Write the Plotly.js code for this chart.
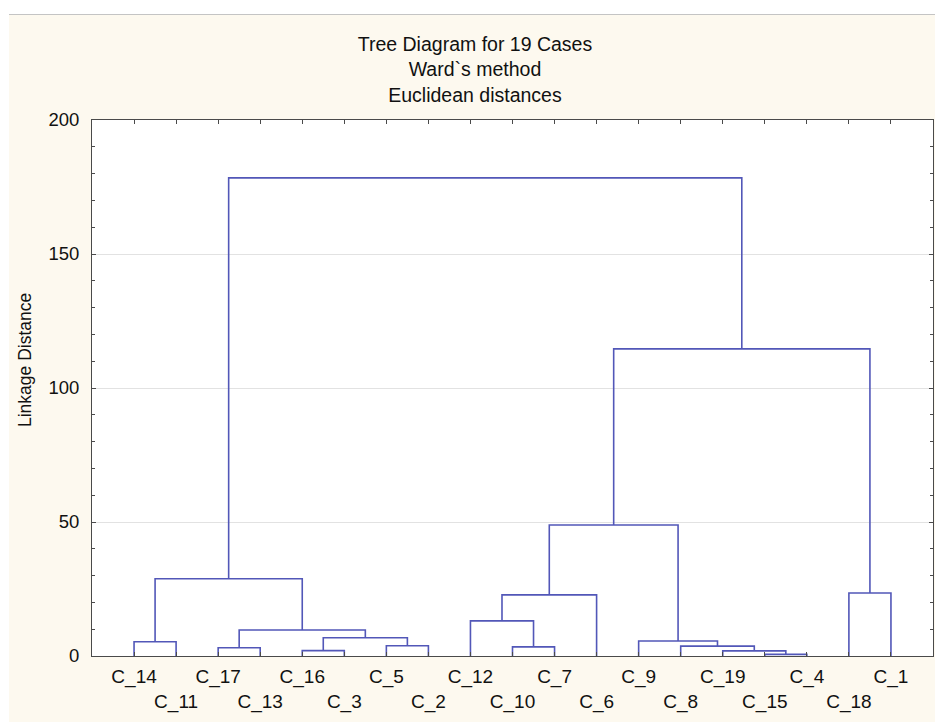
<!DOCTYPE html>
<html>
<head>
<meta charset="utf-8">
<script src="https://cdn.plot.ly/plotly-3.0.1.min.js"></script>
<style>
  html, body { margin: 0; padding: 0; background: #ffffff; }
  #wrap { position: relative; width: 935px; height: 722px; overflow: hidden; }
  #bg { position: absolute; left: 9px; top: 14px; width: 926px; height: 708px;
        background: #fdf9ef; border-top: 1px solid #c4c4c4; }
  #chart { position: absolute; left: 0; top: 0; width: 935px; height: 722px; }
</style>
</head>
<body>
<div id="wrap"><div id="bg"></div><div id="chart"></div></div>
<script>
// Leaf order along the x axis (left to right)
const leafLabels = ['C_14','C_11','C_17','C_13','C_16','C_3','C_5','C_2','C_12','C_10',
                    'C_7','C_6','C_9','C_8','C_19','C_15','C_4','C_18','C_1'];

// Linkage steps: node ids 0..18 are leaves (index into leafLabels), 19+ are merged clusters in order
const mergeLeft   = [15, 14, 4, 2, 9, 13, 6, 0, 12, 21, 22, 8, 30, 17, 26, 31, 34, 33];
const mergeRight  = [16, 19, 5, 3, 10, 20, 7, 1, 24, 25, 28, 23, 11, 18, 29, 27, 32, 35];
const mergeHeight = [0.6, 1.9, 2.0, 3.1, 3.4, 3.7, 3.8, 5.3, 5.6, 6.8, 9.7, 13.1, 22.8, 23.5, 28.8, 48.9, 114.6, 178.4];

const yTickVals = [0, 50, 100, 150, 200];

// Build dendrogram segments from the linkage
const n = leafLabels.length;
const nodeX = [], nodeY = [];
for (let i = 0; i < n; i++) { nodeX.push(i + 1); nodeY.push(0); }
const lx = [], ly = [];
for (let k = 0; k < mergeLeft.length; k++) {
  const a = mergeLeft[k], b = mergeRight[k], h = mergeHeight[k];
  lx.push(nodeX[a], nodeX[a], nodeX[b], nodeX[b], null);
  ly.push(nodeY[a], h, h, nodeY[b], null);
  nodeX.push((nodeX[a] + nodeX[b]) / 2);
  nodeY.push(h);
}

const tickVals = leafLabels.map((_, i) => i + 1);
const tickText = leafLabels.map((s, i) => (i % 2 === 0 ? s : '<br>' + s));

const fontFam = '"Liberation Sans", Arial, sans-serif';
const axisCol = '#4a4a4a';
const txtCol = '#111111';

const data = [{
  type: 'scatter', mode: 'lines', x: lx, y: ly,
  line: { color: '#5257b8', width: 1.6 },
  hoverinfo: 'skip', showlegend: false, connectgaps: false
}];

const layout = {
  width: 935, height: 722,
  margin: { l: 92, r: 2, t: 120, b: 66 },
  paper_bgcolor: 'rgba(0,0,0,0)',
  plot_bgcolor: '#ffffff',
  font: { family: fontFam, color: txtCol },
  title: {
    text: 'Tree Diagram for 19 Cases<br>Ward`s method<br>Euclidean distances',
    font: { family: fontFam, size: 19.5, color: txtCol },
    xref: 'container', x: 0.508, xanchor: 'center',
    yref: 'container', y: 1 - 51 / 722, yanchor: 'top'
  },
  xaxis: {
    range: [0, 20], showgrid: false, zeroline: false,
    tickmode: 'array', tickvals: tickVals, ticktext: tickText,
    ticks: 'inside', ticklen: 4, tickcolor: axisCol, tickwidth: 1,
    showline: true, linecolor: axisCol, linewidth: 1, mirror: 'allticks',
    tickfont: { family: fontFam, size: 19, color: txtCol },
    tickangle: 0, ticklabelstandoff: 3
  },
  yaxis: {
    range: [0, 200], zeroline: false,
    tickmode: 'array', tickvals: yTickVals,
    showgrid: true, gridcolor: '#e2e2e2', gridwidth: 1,
    ticks: 'inside', ticklen: 4, tickcolor: axisCol, tickwidth: 1,
    minor: { dtick: 10, ticks: 'inside', ticklen: 3, tickcolor: axisCol, showgrid: false },
    showline: true, linecolor: axisCol, linewidth: 1, mirror: 'allticks',
    tickfont: { family: fontFam, size: 18.5, color: txtCol },
    ticklabelstandoff: 8
  },
  annotations: [{
    text: 'Linkage Distance', textangle: -90, showarrow: false,
    xref: 'paper', x: (25 - 92) / 841, xanchor: 'center',
    yref: 'paper', y: (656 - 360) / 536, yanchor: 'middle',
    font: { family: fontFam, size: 17.5, color: txtCol }
  }]
};

Plotly.newPlot('chart', data, layout, { displayModeBar: false, staticPlot: true });
</script>
</body>
</html>
